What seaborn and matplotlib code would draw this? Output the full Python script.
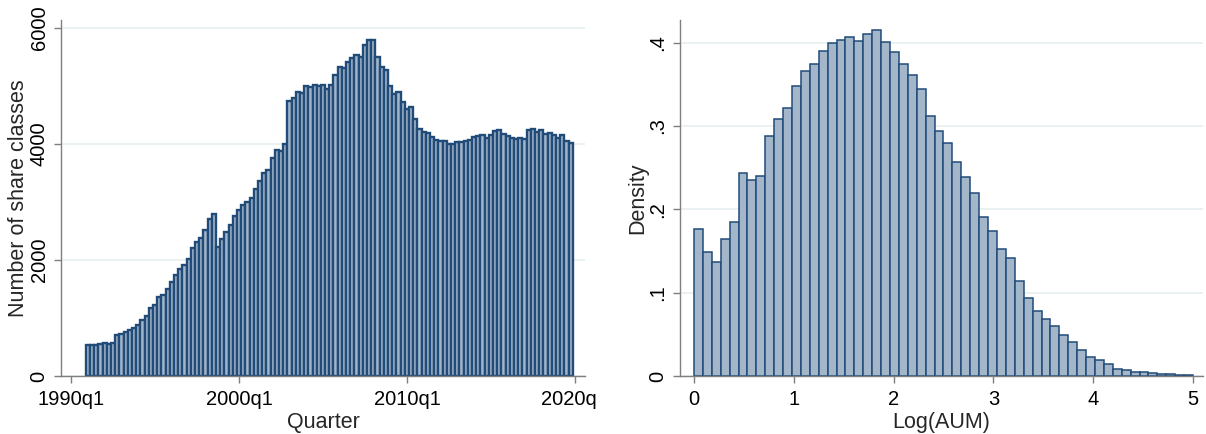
import numpy as np
import pandas as pd
import matplotlib
matplotlib.use("Agg")
import matplotlib.pyplot as plt
import seaborn as sns
from matplotlib.transforms import Bbox, TransformedBbox

# ---------------- data ----------------
# Number of share classes per quarter, 1991q1 .. 2019q4
share_classes = [
    536, 536, 536, 553, 565, 560, 565,
    703, 720, 755, 795, 835, 887, 968, 1032, 1164, 1227, 1354, 1395, 1492, 1620,
    1746, 1844, 1919, 2023, 2213, 2311, 2386, 2519, 2702, 2795, 2230, 2368, 2484,
    2610, 2760, 2864, 2956, 2996, 3065, 3221, 3354,
    3492, 3549, 3763, 3896, 3884, 3993, 4748, 4788, 4898, 4880, 5001, 4990, 5019,
    5001, 5013, 4944, 5013, 5186, 5319, 5302, 5416, 5474, 5537, 5503, 5705, 5797,
    5797, 5503, 5330, 5278, 5001, 4868, 4892,
    4719, 4604, 4633, 4437, 4258, 4212, 4189, 4126, 4074, 4051, 4045, 3999, 4005,
    4028, 4028, 4045, 4068, 4120, 4137, 4160, 4097, 4155, 4218, 4241, 4166, 4137,
    4108, 4085, 4102, 4079, 4235, 4252, 4212, 4235, 4172, 4189, 4155, 4102, 4149,
    4056, 4022,
]
first_quarter_index = 124          # Stata %tq: 1990q1 = 120, so 1991q1 = 124
quarter_ticks = [120, 160, 200, 240]
quarter_tick_labels = ["1990q1", "2000q1", "2010q1", "2020q1"]

# Histogram of Log(AUM): density per bin, 56 equal bins on [0, 5]
log_aum_density = [
    0.176, 0.149, 0.137, 0.164, 0.185, 0.244, 0.235, 0.240, 0.288, 0.308,
    0.321, 0.348, 0.366, 0.374, 0.390, 0.399, 0.403, 0.407, 0.402, 0.410,
    0.415, 0.401, 0.389, 0.374, 0.361, 0.344, 0.312, 0.294, 0.279, 0.257,
    0.239, 0.220, 0.191, 0.174, 0.152, 0.141, 0.114, 0.094, 0.078, 0.068,
    0.060, 0.049, 0.041, 0.031, 0.023, 0.019, 0.0144, 0.0088, 0.0076, 0.0052,
    0.0044, 0.0032, 0.0024, 0.0024, 0.0012, 0.0008,
]
bin_low, bin_high = 0.0, 5.0
density_ticks = [0, 0.1, 0.2, 0.3, 0.4]
density_tick_labels = ["0", ".1", ".2", ".3", ".4"]
log_ticks = [0, 1, 2, 3, 4, 5]

# ---------------- style ----------------
sns.set_theme(style="white")
plt.rcParams["font.family"] = ["Liberation Sans", "DejaVu Sans"]

FILL = "#a4b6c9"
EDGE = "#214c79"
AXIS = "#7f7f7f"
GRID = "#e6eff1"
FS_TICK = 14.5
FS_TITLE = 15.5

W, H = 1206, 434
fig = plt.figure(figsize=(W / 100, H / 100), dpi=100)
fig.patch.set_facecolor("white")

ax1 = fig.add_axes([61 / W, 1 - 376 / H, (585 - 61) / W, (376 - 20) / H])
ax2 = fig.add_axes([680 / W, 1 - 376 / H, (1203 - 680) / W, (376 - 20) / H])

# ---------------- left panel ----------------
quarters = np.arange(first_quarter_index, first_quarter_index + len(share_classes))
df1 = pd.DataFrame({"quarter": quarters, "n": share_classes})
sns.barplot(data=df1, x="quarter", y="n", native_scale=True, width=1.0,
            color=FILL, edgecolor=EDGE, linewidth=1.7, saturation=1,
            errorbar=None, ax=ax1)
ax1.set_xlim(117.6, 242.4)
ax1.set_ylim(0, 6137)
ax1.set_yticks([0, 2000, 4000, 6000])
ax1.set_yticklabels(["0", "2000", "4000", "6000"])
ax1.set_xticks(quarter_ticks)
ax1.set_xticklabels(quarter_tick_labels)
ax1.set_xlabel("Quarter", fontsize=FS_TITLE, labelpad=2)
ax1.set_ylabel("Number of share classes", fontsize=FS_TITLE, labelpad=0)

# ---------------- right panel ----------------
n_bins = len(log_aum_density)
width = (bin_high - bin_low) / n_bins
centers = bin_low + width * (np.arange(n_bins) + 0.5)
df2 = pd.DataFrame({"log_aum": centers, "density": log_aum_density})
sns.histplot(data=df2, x="log_aum", weights="density", bins=n_bins,
             binrange=(bin_low, bin_high), stat="count",
             color=FILL, edgecolor=EDGE, linewidth=1.1, alpha=1, ax=ax2)
ax2.set_xlim(-0.14, 5.1)
ax2.set_ylim(0, 0.427)
ax2.set_yticks(density_ticks)
ax2.set_yticklabels(density_tick_labels)
ax2.set_xticks(log_ticks)
ax2.set_xticklabels([str(t) for t in log_ticks])
ax2.set_xlabel("Log(AUM)", fontsize=FS_TITLE, labelpad=2)
ax2.set_ylabel("Density", fontsize=FS_TITLE, labelpad=0.5)

for ax in (ax1, ax2):
    ax.set_axisbelow(True)
    ax.yaxis.grid(True, color=GRID, linewidth=1.2)
    ax.xaxis.grid(False)
    for s in ("top", "right"):
        ax.spines[s].set_visible(False)
    for s in ("left", "bottom"):
        ax.spines[s].set_color(AXIS)
        ax.spines[s].set_linewidth(1.0)
    ax.tick_params(axis="both", direction="out", length=5, width=1,
                   color=AXIS, labelsize=FS_TICK, labelcolor="black",
                   bottom=True, left=True, pad=5)
    ax.tick_params(axis="y", labelrotation=90, pad=4)
    for lab in ax.get_yticklabels():
        lab.set_va("center")
    ax.set_facecolor("white")

# clip left panel's x tick labels at the panel boundary (like the combined graph)
clip = TransformedBbox(Bbox([[0, 0], [597 / W, 1]]), fig.transFigure)
for t in ax1.xaxis.get_major_ticks():
    t.label1.set_clip_box(clip)
    t.label1.set_clip_on(True)

fig.savefig("out.png", dpi=100, facecolor="white")
